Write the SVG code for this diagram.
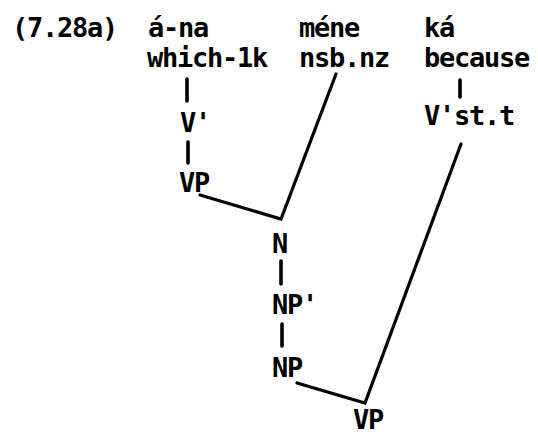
<svg xmlns="http://www.w3.org/2000/svg" width="538" height="435" viewBox="0 0 538 435">
<style>
text{font-family:"DejaVu Sans Mono","Liberation Mono",monospace;font-weight:bold;font-size:27px;letter-spacing:-1.25px;fill:#000}
.c line,.c polyline{stroke:#000;stroke-width:3.2;fill:none;stroke-linecap:round;stroke-linejoin:miter}
.c .t{stroke-width:3.6}
</style>
<rect width="538" height="435" fill="#fff"/>
<g id="label"><text x="12" y="37">(7.28a)</text></g>
<g id="ana"><text x="148" y="37">á-na</text><text x="147" y="67">which-1k</text></g>
<g id="mene"><text x="299" y="37">méne</text><text x="299" y="67">nsb.nz</text></g>
<g id="ka"><text x="424" y="37">ká</text><text x="424" y="67">because</text></g>
<g id="v1"><text x="180" y="132">V'</text></g>
<g id="vp1"><text x="179" y="192">VP</text></g>
<g id="vst"><text x="424" y="125">V'st.t</text></g>
<g id="n"><text x="272" y="253">N</text></g>
<g id="np1"><text x="272" y="314">NP'</text></g>
<g id="np"><text x="272" y="377">NP</text></g>
<g id="vp2"><text x="353" y="429">VP</text></g>
<g id="connectors" class="c">
<line class="t" x1="187" y1="79" x2="187" y2="101"/>
<line class="t" x1="188" y1="142" x2="188" y2="163"/>
<polyline points="200,195 281,219 336,74"/>
<line class="t" x1="460" y1="80" x2="460" y2="97"/>
<line class="t" x1="281" y1="261" x2="281" y2="284"/>
<line class="t" x1="282" y1="324" x2="282" y2="346"/>
<polyline points="297,383 365,403 461,144"/>
</g>
</svg>
